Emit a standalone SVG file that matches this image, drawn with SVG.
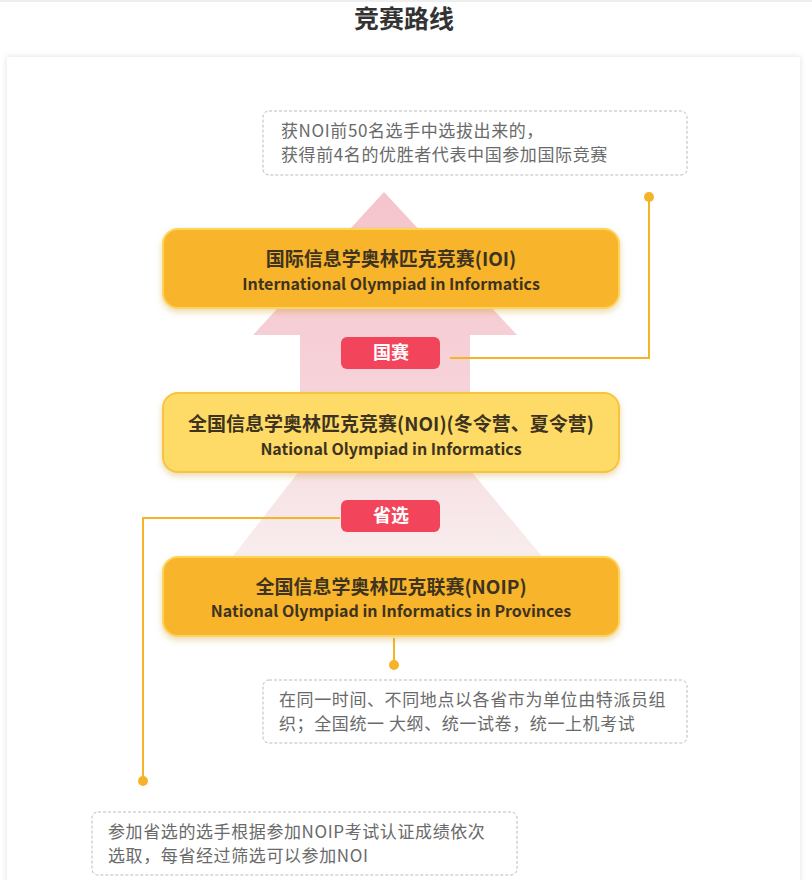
<svg xmlns="http://www.w3.org/2000/svg" width="812" height="880" viewBox="0 0 812 880">
<defs>
<linearGradient id="pk" x1="0" y1="0" x2="0" y2="1"><stop offset="0" stop-color="#f5c4cc"/><stop offset="0.5" stop-color="#f6d2d8"/><stop offset="1" stop-color="#f8eeee"/></linearGradient>
<filter id="sh" x="-10%" y="-30%" width="120%" height="160%"><feDropShadow dx="0" dy="3" stdDeviation="3" flood-color="#c89020" flood-opacity="0.35"/></filter>
<filter id="cs" x="-5%" y="-5%" width="110%" height="110%"><feDropShadow dx="0" dy="0" stdDeviation="3" flood-color="#000" flood-opacity="0.12"/></filter>
<style>
.t{font-family:"Noto Sans CJK SC","Noto Sans",sans-serif}
.h{font-weight:bold;fill:#3d3320;text-anchor:middle}
.n{fill:#6a6a6a;font-size:17px;letter-spacing:0.6px}
.note{fill:#fff;stroke:#bbb;stroke-dasharray:3 2;stroke-width:1}
.ln{fill:none;stroke:#f5b328;stroke-width:2}
.dot{fill:#f5b328}
.tag{fill:#f2445a}
.tt{fill:#fff;font-size:18px;font-weight:bold;text-anchor:middle}
</style>
</defs>
<rect width="812" height="880" fill="#fff"/>
<line x1="0" y1="1" x2="812" y2="1" stroke="#ddd"/>
<text class="t" x="404" y="28" font-size="25" font-weight="bold" text-anchor="middle" fill="#333">竞赛路线</text>
<rect x="7" y="57" width="793" height="830" fill="#fff" filter="url(#cs)"/>
<polygon points="384,192 517,335 470,335 470,470 545,560 230,560 300,470 300,335 253,335" fill="url(#pk)"/>
<g id="connectors">
<path class="ln" d="M450,358 H649 V198"/><circle class="dot" cx="649" cy="197" r="5"/>
<path class="ln" d="M340,518 H143 V780"/><circle class="dot" cx="143" cy="781" r="5"/>
<path class="ln" d="M394,638 V664"/><circle class="dot" cx="394" cy="665" r="5"/>
</g>
<g id="note-ioi"><rect class="note" x="263" y="111" width="424" height="64" rx="6"/>
<text class="t n" x="281" y="137">获NOI前50名选手中选拔出来的，</text><text class="t n" x="281" y="161">获得前4名的优胜者代表中国参加国际竞赛</text></g>
<g id="ioi"><rect x="163" y="229" width="456" height="79" rx="15" fill="#f8b42c" stroke="#fcd45a" stroke-width="2" filter="url(#sh)"/>
<text class="t h" x="391" y="266" font-size="19">国际信息学奥林匹克竞赛(IOI)</text><text class="t h" x="391" y="290" font-size="16">International Olympiad in Informatics</text></g>
<g id="tag-guo"><rect class="tag" x="341" y="337" width="99" height="32" rx="6"/><text class="t tt" x="391" y="359">国赛</text></g>
<g id="noi"><rect x="163" y="393" width="456" height="79" rx="15" fill="#fddb66" stroke="#f8c440" stroke-width="2" filter="url(#sh)"/>
<text class="t h" x="391" y="431" font-size="19">全国信息学奥林匹克竞赛(NOI)(冬令营、夏令营)</text><text class="t h" x="391" y="455" font-size="16">National Olympiad in Informatics</text></g>
<g id="tag-sheng"><rect class="tag" x="341" y="500" width="99" height="32" rx="6"/><text class="t tt" x="391" y="522">省选</text></g>
<g id="noip"><rect x="163" y="557" width="456" height="79" rx="15" fill="#f8b42c" stroke="#fcd45a" stroke-width="2" filter="url(#sh)"/>
<text class="t h" x="391" y="594" font-size="19">全国信息学奥林匹克联赛(NOIP)</text><text class="t h" x="391" y="617" font-size="16">National Olympiad in Informatics in Provinces</text></g>
<g id="note-noip"><rect class="note" x="263" y="680" width="424" height="63" rx="6"/>
<text class="t n" x="279" y="706">在同一时间、不同地点以各省市为单位由特派员组</text><text class="t n" x="279" y="730">织；全国统一 大纲、统一试卷，统一上机考试</text></g>
<g id="note-sx"><rect class="note" x="92" y="812" width="425" height="63" rx="6"/>
<text class="t n" x="108" y="838">参加省选的选手根据参加NOIP考试认证成绩依次</text><text class="t n" x="108" y="862">选取，每省经过筛选可以参加NOI</text></g>
</svg>
